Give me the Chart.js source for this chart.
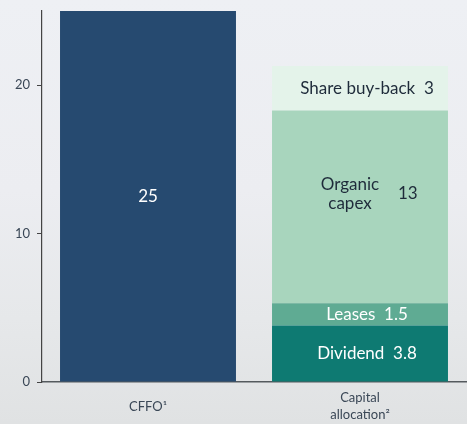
<!DOCTYPE html>
<html>
<head>
<meta charset="utf-8">
<script src="https://cdn.jsdelivr.net/npm/chart.js@4"></script>
<style>
  html, body { margin: 0; padding: 0; }
  body {
    width: 467px; height: 424px; overflow: hidden;
    background: linear-gradient(180deg, #eef0f4 0%, #ecedf1 45%, #e6e8ea 75%, #e0e2e3 100%);
  }
</style>
</head>
<body>
<canvas id="chart" width="467" height="424"></canvas>
<script>
// categories and values (USD bn)
const categories = [['CFFO\u00b9'], ['Capital', 'allocation\u00b2']];
const cffo = [25, null];
const dividend = [null, 3.8];
const leases = [null, 1.5];
const organicCapex = [null, 13];
const shareBuyback = [null, 3];
const yTicks = [0, 10, 20];

const segNames = ['', 'Dividend', 'Leases', 'Organic\ncapex', 'Share buy-back'];
const segColors = ['#264a70', '#0e7a72', '#5fab93', '#a8d5bd', '#e4f3ea'];
const segText = ['#ffffff', '#ffffff', '#ffffff', '#1e2b3a', '#1e2b3a'];

const FONT = 'Lato, "Noto Sans", sans-serif';

// draws the names and values inside each bar segment
const segmentLabels = {
    id: 'segmentLabels',
    afterDatasetsDraw(chart) {
        const ctx = chart.ctx;
        ctx.save();
        ctx.textBaseline = 'middle';
        chart.data.datasets.forEach((ds, di) => {
            const meta = chart.getDatasetMeta(di);
            meta.data.forEach((bar, i) => {
                const v = ds.data[i];
                if (v == null) return;
                const cy = (bar.y + bar.base) / 2;
                const cx = bar.x;
                ctx.fillStyle = segText[di];
                ctx.font = '17px ' + FONT;
                const name = segNames[di];
                if (!name) {
                    ctx.textAlign = 'center';
                    ctx.fillText(String(v), cx, cy);
                } else if (name.includes('\n')) {
                    // multi-line name sits a bit above the middle
                    const lines = name.split('\n');
                    ctx.textAlign = 'center';
                    ctx.fillText(lines[0], cx - 10, cy - 22);
                    ctx.fillText(lines[1], cx - 10, cy - 3);
                    ctx.textAlign = 'left';
                    ctx.fillText(String(v), cx + 38, cy - 13);
                } else {
                    ctx.textAlign = 'center';
                    ctx.fillText(name + '  ' + v, cx + 7, cy);
                }
            });
        });
        ctx.restore();
    }
};

function makeSet(label, data, i) {
    return {
        label: label,
        data: data,
        backgroundColor: segColors[i],
        borderWidth: 0,
        barPercentage: 0.83,
        categoryPercentage: 1
    };
}

new Chart(document.getElementById('chart').getContext('2d'), {
    type: 'bar',
    data: {
        labels: categories,
        datasets: [
            makeSet('CFFO', cffo, 0),
            makeSet('Dividend', dividend, 1),
            makeSet('Leases', leases, 2),
            makeSet('Organic capex', organicCapex, 3),
            makeSet('Share buy-back', shareBuyback, 4)
        ]
    },
    options: {
        responsive: false,
        animation: false,
        layout: { padding: { top: 11, right: 1, left: 0, bottom: 0 } },
        plugins: { legend: { display: false }, tooltip: { enabled: false } },
        scales: {
            x: {
                stacked: true,
                grid: { display: false },
                border: { display: true, color: '#555a5e', width: 1.5 },
                ticks: {
                    color: '#3a4756',
                    font: { family: FONT, size: 13, lineHeight: 1.3 },
                    padding: 8,
                    crossAlign: 'center',
                    maxRotation: 0
                },
                afterFit(scale) { scale.height = 42; }
            },
            y: {
                stacked: true,
                min: 0,
                max: 25,
                afterBuildTicks(scale) { scale.ticks = yTicks.map(v => ({ value: v })); },
                grid: { drawOnChartArea: false, drawTicks: true, tickLength: 5, color: '#444' },
                border: { display: true, color: '#444', width: 1.2 },
                ticks: {
                    color: '#3a4756',
                    font: { family: FONT, size: 13 },
                    padding: 7
                },
                afterFit(scale) {
                    scale.width = 42;
                    scale.paddingTop = 0;
                    scale.paddingBottom = 0;
                }
            }
        }
    },
    plugins: [segmentLabels]
});
</script>
</body>
</html>
